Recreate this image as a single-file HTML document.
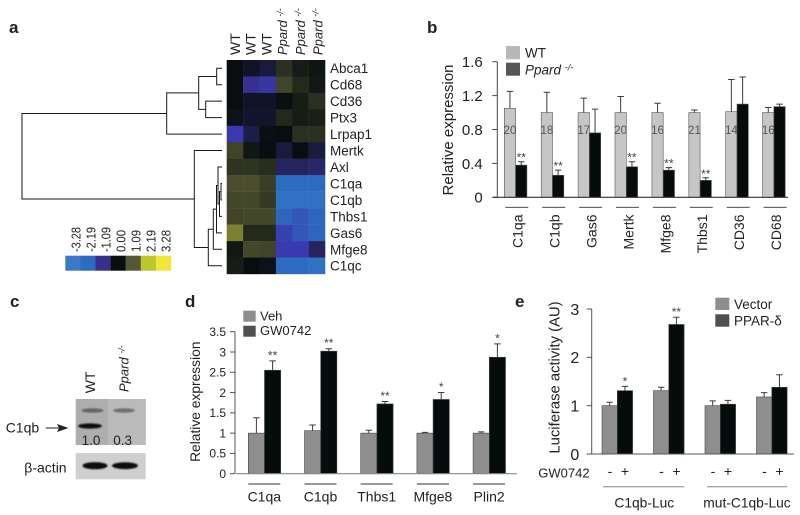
<!DOCTYPE html>
<html>
<head>
<meta charset="utf-8">
<style>
html,body{margin:0;padding:0;background:#fff;}
svg{display:block;}
text{font-family:"Liberation Sans",sans-serif;fill:#222;}
</style>
</head>
<body>
<svg id="fig" xmlns="http://www.w3.org/2000/svg" width="800" height="515" viewBox="0 0 800 515">
<defs>
<filter id="soft" x="-20%" y="-80%" width="140%" height="260%"><feGaussianBlur stdDeviation="0.9"/></filter>
<filter id="softer" x="-20%" y="-80%" width="140%" height="260%"><feGaussianBlur stdDeviation="1.3"/></filter>
<filter id="fuzz" x="-10%" y="-10%" width="120%" height="120%"><feGaussianBlur stdDeviation="3"/></filter>
</defs>

<text x="9" y="33" font-size="17" font-weight="bold">a</text>
<text x="427" y="33" font-size="17" font-weight="bold">b</text>
<text x="10" y="307" font-size="17" font-weight="bold">c</text>
<text x="185" y="307" font-size="17" font-weight="bold">d</text>
<text x="515" y="307" font-size="17" font-weight="bold">e</text>

<g id="panel-a">
  <g>
    <text transform="translate(240,55) rotate(-90)" font-size="14">WT</text>
    <text transform="translate(255.7,55) rotate(-90)" font-size="14">WT</text>
    <text transform="translate(271.7,55) rotate(-90)" font-size="14">WT</text>
    <text transform="translate(287,55) rotate(-90)" font-size="13" font-style="italic">Ppard <tspan font-size="9" dy="-4">-/-</tspan></text>
    <text transform="translate(305,55) rotate(-90)" font-size="13" font-style="italic">Ppard <tspan font-size="9" dy="-4">-/-</tspan></text>
    <text transform="translate(322.7,55) rotate(-90)" font-size="13" font-style="italic">Ppard <tspan font-size="9" dy="-4">-/-</tspan></text>
  </g>
</g>

<g id="panel-b">
  <rect x="506" y="46" width="14" height="13.3" fill="#b8b8b8"/>
  <text x="525" y="57.7" font-size="13.5">WT</text>
  <rect x="506" y="62.7" width="14" height="13" fill="#565656"/>
  <text x="525" y="74.3" font-size="13.5" font-style="italic">Ppard <tspan font-size="9" dy="-4">-/-</tspan></text>
  <text transform="translate(453,130) rotate(-90)" font-size="15" text-anchor="middle">Relative expression</text>
</g>

<g id="panel-c">
  <text transform="translate(95,393.3) rotate(-90)" font-size="14">WT</text>
  <text transform="translate(128.3,392) rotate(-90)" font-size="13" font-style="italic">Ppard <tspan font-size="9" dy="-4">-/-</tspan></text>
  <rect x="75.7" y="399" width="70" height="46" fill="#aeaeae"/>
  <rect x="108" y="399" width="37.7" height="46" fill="#bababa"/>
  <ellipse cx="92.5" cy="410.5" rx="11" ry="2.3" fill="#666" filter="url(#soft)"/>
  <ellipse cx="124" cy="410.5" rx="11" ry="2.3" fill="#707070" filter="url(#soft)"/>
  <ellipse cx="90" cy="426" rx="12" ry="2.6" fill="#111" filter="url(#soft)"/>
  <text x="91" y="445" font-size="13.5" text-anchor="middle">1.0</text>
  <text x="122.7" y="445" font-size="13.5" text-anchor="middle">0.3</text>
  <rect x="75.7" y="453" width="70" height="26.3" fill="#cfcfcf"/>
  <ellipse cx="95" cy="465.7" rx="12.5" ry="3.6" fill="#111" filter="url(#soft)"/>
  <ellipse cx="125" cy="465.7" rx="13" ry="3.4" fill="#111" filter="url(#soft)"/>
  <text x="5.7" y="432.7" font-size="14">C1qb</text>
  <line x1="45.7" y1="428" x2="60" y2="428" stroke="#222" stroke-width="1"/>
  <polygon points="57,424 68.5,428 57,432 59,428" fill="#222"/>
  <text x="24.3" y="472.3" font-size="14">β-actin</text>
</g>

<g id="panel-d">
  <rect x="243.3" y="310.7" width="12.4" height="11" fill="#8e8e8e"/>
  <text x="260" y="320.3" font-size="13">Veh</text>
  <rect x="243.3" y="325.7" width="12.4" height="11" fill="#505050"/>
  <text x="260" y="335" font-size="13">GW0742</text>
  <text transform="translate(200,401.7) rotate(-90)" font-size="13.8" text-anchor="middle">Relative expression</text>
</g>

<g id="panel-e">
  <rect x="715.3" y="297.7" width="14" height="12.3" fill="#8e8e8e"/>
  <text x="734" y="309" font-size="13.5">Vector</text>
  <rect x="715.3" y="314.3" width="14" height="12.4" fill="#505050"/>
  <text x="734" y="325.7" font-size="13.5">PPAR-δ</text>
  <text transform="translate(559.3,377.5) rotate(-90)" font-size="14.8" text-anchor="middle">Luciferase activity (AU)</text>
  <text x="538.3" y="477.7" font-size="13" fill="#333">GW0742</text>
  <line x1="603.3" y1="486.7" x2="684.3" y2="486.7" stroke="#888" stroke-width="1"/>
  <line x1="707.3" y1="486.7" x2="787.3" y2="486.7" stroke="#888" stroke-width="1"/>
  <text x="644.3" y="507.3" font-size="13.8" text-anchor="middle">C1qb-Luc</text>
  <text x="747" y="507.3" font-size="13.8" text-anchor="middle">mut-C1qb-Luc</text>
</g>
</svg>

<script>
// ---------- Panel a data ----------
const heatGenes = ["Abca1","Cd68","Cd36","Ptx3","Lrpap1","Mertk","Axl","C1qa","C1qb","Thbs1","Gas6","Mfge8","C1qc"];
const heatAbca1 = [0,-0.2,-0.4,0.5,0.2,0.1];
const heatCd68 = [0,-1.15,-1.35,0.8,0.4,0.15];
const heatCd36 = [0,-0.2,-0.2,-0.02,0.2,0.5];
const heatPtx3 = [-0.1,-0.25,-0.25,0.4,0.2,0.25];
const heatLrpap1 = [-1.5,-0.5,-0.02,0,0.5,0.5];
const heatMertk = [0.8,0.12,0,-0.4,0,-0.4];
const heatAxl = [0.55,0.55,0.45,-0.7,-0.7,-0.8];
const heatC1qa = [0.95,0.95,0.7,-2.3,-2.3,-2.2];
const heatC1qb = [0.85,0.85,0.65,-2.6,-2.6,-2.6];
const heatThbs1 = [0.8,0.85,0.85,-2.1,-1.9,-2.1];
const heatGas6 = [1.5,0.4,0.4,-1.6,-1.9,-2.1];
const heatMfge8 = [0.15,0.85,0.8,-1.5,-1.5,-0.7];
const heatC1qc = [0.2,0,-0.1,-2.2,-2.2,-2.6];
const scaleLabels = ["-3.28","-2.19","-1.09","0.00","1.09","2.19","3.28"];
const scaleValues = [-3.28,-2.19,-1.09,0,1.09,2.19,3.28];

// ---------- Panel b data ----------
const bCategories = ["C1qa","C1qb","Gas6","Mertk","Mfge8","Thbs1","CD36","CD68"];
const bWT = [1.05,1,1,1,1,1,1.01,1];
const bWTErr = [1.25,1.24,1.17,1.19,1.11,1.03,1.39,1.06];
const bKO = [0.38,0.26,0.76,0.36,0.32,0.2,1.1,1.07];
const bKOErr = [0.42,0.32,1.04,0.42,0.35,0.23,1.42,1.1];
const bStars = ["**","**","","**","**","**","",""];
const bCounts = ["20","18","17","20","16","21","14","16"];
const bTicks = [0,0.4,0.8,1.2,1.6];
const bTickLabels = ["0","0.4","0.8","1.2","1.6"];

// ---------- Panel d data ----------
const dCategories = ["C1qa","C1qb","Thbs1","Mfge8","Plin2"];
const dVeh = [1,1.06,1,1,1];
const dVehErr = [1.38,1.2,1.07,1.02,1.03];
const dGW = [2.55,3.02,1.72,1.83,2.87];
const dGWErr = [2.78,3.08,1.78,2,3.2];
const dStars = ["**","**","**","*","*"];
const dTicks = [0,0.5,1,1.5,2,2.5,3,3.5];
const dTickLabels = ["0","0.5","1","1.5","2","2.5","3","3.5"];

// ---------- Panel e data ----------
const eVector = [1,1.31,1,1.18];
const eVectorErr = [1.07,1.38,1.1,1.27];
const ePPAR = [1.31,2.68,1.03,1.38];
const ePPARErr = [1.4,2.83,1.11,1.64];
const eStars = ["*","**","",""];
const eTicks = [0,1,2,3];
const eTickLabels = ["0","1","2","3"];

const NS = "http://www.w3.org/2000/svg";
function el(parent, tag, attrs, txt){
  const n = document.createElementNS(NS, tag);
  for (const k in attrs) n.setAttribute(k, attrs[k]);
  if (txt !== undefined) n.textContent = txt;
  parent.appendChild(n);
  return n;
}

// ---------- Heatmap ----------
const heatRows = [heatAbca1,heatCd68,heatCd36,heatPtx3,heatLrpap1,heatMertk,heatAxl,heatC1qa,heatC1qb,heatThbs1,heatGas6,heatMfge8,heatC1qc];
const colorStops = [[-3.28,[58,122,200]],[-2.19,[44,108,192]],[-1.5,[58,58,176]],[-1.09,[53,48,138]],[0,[8,14,16]],[1.09,[85,88,50]],[2.19,[188,198,47]],[3.28,[242,230,58]]];
function heatColor(v){
  if (v <= colorStops[0][0]) return "rgb(" + colorStops[0][1].join(",") + ")";
  for (let i = 1; i < colorStops.length; i++){
    if (v <= colorStops[i][0]){
      const a = colorStops[i-1], b = colorStops[i];
      const t = (v - a[0]) / (b[0] - a[0]);
      return "rgb(" + a[1].map((c,j)=>Math.round(c + (b[1][j]-c)*t)).join(",") + ")";
    }
  }
  return "rgb(" + colorStops[colorStops.length-1][1].join(",") + ")";
}
const panelA = document.getElementById("panel-a");
const heatX = c => 226.7 + c * 16.4;
const heatY = r => 60 + r * 16.46;
heatRows.forEach((row, r) => {
  row.forEach((v, c) => {
    const cell = el(panelA, "rect", {x: heatX(c), y: heatY(r), width: 16.6, height: 16.66, fill: heatColor(v)});
    
    
  });
  const lab = el(panelA, "text", {x: 330, y: heatY(r) + 13.2, "font-size": 13.5}, heatGenes[r]);
  
  
});

// Dendrogram: each merge joins two children at a horizontal cut position
const dendroTree = {x:22, kids:[
  {x:166.7, kids:[
    {x:198.7, kids:[
      {x:216.7, kids:[0,1]},
      {x:205.7, kids:[2,3]}
    ]},
    4
  ]},
  {x:194.3, kids:[
    5,
    {x:208.3, kids:[
      {x:213.3, kids:[
        {x:216.5, kids:[
          {x:218, kids:[
            6,
            {x:219.5, kids:[{x:221, kids:[7,8]},9]}
          ]},
          10
        ]},
        11
      ]},
      12
    ]}
  ]}
]};
function drawDendro(node){
  if (typeof node === "number") return {x:222, y:heatY(node) + 8.23};
  const a = drawDendro(node.kids[0]);
  const b = drawDendro(node.kids[1]);
  const p = el(panelA, "path", {
    d: "M" + a.x + " " + a.y + "H" + node.x + "V" + b.y + "H" + b.x,
    fill: "none", stroke: "#1a1a1a", "stroke-width": 1
  });
  
  
  return {x: node.x, y: (a.y + b.y) / 2};
}
drawDendro(dendroTree);

// Colour scale
scaleValues.forEach((v, i) => {
  const s = el(panelA, "rect", {x: 65.3 + i * 15.1, y: 255.7, width: 15.3, height: 15, fill: heatColor(v)});
  
  
  const t = el(panelA, "text", {transform: "translate(" + (80.7 + i * 15) + ",252) rotate(-90)", "font-size": 12.5, textLength: scaleLabels[i].length > 4 ? 25 : 22, lengthAdjust: "spacingAndGlyphs"}, scaleLabels[i]);
  
  
});

// ---------- Generic bars ----------
function drawBars(cfg){
  const g = document.getElementById(cfg.panel);
  // axes
  const yAxis = el(g, "line", {x1: cfg.axisX, x2: cfg.axisX, y1: cfg.y(cfg.ticks[cfg.ticks.length-1]), y2: cfg.y(0), stroke: cfg.axisColor, "stroke-width": 1});
  
  
  cfg.ticks.forEach((v, i) => {
    const tk = el(g, "line", {x1: cfg.axisX - 5, x2: cfg.axisX, y1: cfg.y(v), y2: cfg.y(v), stroke: cfg.axisColor, "stroke-width": 1});
    
    
    const tl = el(g, "text", {x: cfg.tickRight, y: cfg.y(v) + cfg.tickFont * 0.36, "font-size": cfg.tickFont, "text-anchor": "end"}, cfg.tickLabels[i]);
    
    
  });
  cfg.s1.forEach((v, i) => {
    const x0 = cfg.x(i);
    const w = cfg.barW;
    const x1 = x0 + w;
    const drawOne = (x, val, err, fill, nm) => {
      const eb = el(g, "path", {
        d: "M" + (x + w/2) + " " + cfg.y(val) + "V" + cfg.y(err) + "M" + (x + w/2 - 3.2) + " " + cfg.y(err) + "h6.4",
        fill: "none", stroke: "#3a3a3a", "stroke-width": 1
      });
      
      
      const b = el(g, "rect", {x: x, y: cfg.y(val), width: w, height: cfg.y(0) - cfg.y(val), fill: fill, stroke: cfg.barStroke, "stroke-width": 0.6});
      
      
    };
    drawOne(x0, v, cfg.e1[i], cfg.c1, 'bar-series-1');
    drawOne(x1, cfg.s2[i], cfg.e2[i], cfg.c2, 'bar-series-2');
    if (cfg.stars[i]) {
      const st = el(g, "text", {x: x1 + w/2, y: cfg.y(cfg.e2[i]) + cfg.starDy, "font-size": 12, "text-anchor": "middle", fill: "#444"}, cfg.stars[i]);
      st.style.fill = "#444";
      
      
    }
  });
  const base = el(g, "line", {x1: cfg.baseL, x2: cfg.baseR, y1: cfg.y(0), y2: cfg.y(0), stroke: cfg.baseColor, "stroke-width": 1.1});
  
  
}

const yB = v => 197.3 - v * 84.75;
const xB = i => 504.3 + i * 36.9;
const yD = v => 473.7 - v * 40.57;
const xD = i => 248.3 + i * 56.2;
const yE = v => 454 - v * 48.33;
const xE = i => 602 + i * 51.5;

drawBars({panel:"panel-b", s1:bWT, e1:bWTErr, s2:bKO, e2:bKOErr, stars:bStars, ticks:bTicks, tickLabels:bTickLabels,
  x:xB, y:yB, barW:11.3, c1:"#c6c6c6", c2:"#060c0c", barStroke:"#555", axisX:497.3, axisColor:"#444", tickRight:482.7, tickFont:15,
  baseL:492.7, baseR:788, baseColor:"#333", starDy:0});
drawBars({panel:"panel-d", s1:dVeh, e1:dVehErr, s2:dGW, e2:dGWErr, stars:dStars, ticks:dTicks, tickLabels:dTickLabels,
  x:xD, y:yD, barW:16.2, c1:"#8e8e8e", c2:"#060c0c", barStroke:"#444", axisX:235, axisColor:"#555", tickRight:226, tickFont:12,
  baseL:236, baseR:516.7, baseColor:"#888", starDy:-1.5});
drawBars({panel:"panel-e", s1:eVector, e1:eVectorErr, s2:ePPAR, e2:ePPARErr, stars:eStars, ticks:eTicks, tickLabels:eTickLabels,
  x:xE, y:yE, barW:15.3, c1:"#8e8e8e", c2:"#060c0c", barStroke:"#444", axisX:591.7, axisColor:"#555", tickRight:579.3, tickFont:16,
  baseL:586.7, baseR:794, baseColor:"#555", starDy:-1});

// Panel b extras
const gB = document.getElementById("panel-b");
bCategories.forEach((c, i) => {
  const ln = el(gB, "line", {x1: xB(i) + 1, x2: xB(i) + 24, y1: 207.3, y2: 207.3, stroke: "#333", "stroke-width": 0.9});
  
  
  const t = el(gB, "text", {transform: "translate(" + (xB(i) + 18.4) + ",214.5) rotate(-90)", "font-size": 14, "text-anchor": "end"}, c);
  
  
  const n = el(gB, "text", {x: xB(i) + 5.65, y: 134, "font-size": 11.5, "text-anchor": "middle"}, bCounts[i]);
  n.style.fill = "#555";
  
  
});

// Panel d extras
const gD = document.getElementById("panel-d");
dCategories.forEach((c, i) => {
  const ln = el(gD, "line", {x1: xD(i), x2: xD(i) + 32, y1: 484, y2: 484, stroke: "#333", "stroke-width": 0.9});
  
  
  const t = el(gD, "text", {x: xD(i) + 16, y: 501.5, "font-size": 14, "text-anchor": "middle"}, c);
  
  
});

// Panel e extras
const gE = document.getElementById("panel-e");
eVector.forEach((v, i) => {
  const minus = el(gE, "text", {x: xE(i) + 8, y: 476, "font-size": 14, "text-anchor": "middle"}, "-");
  
  
  const plus = el(gE, "text", {x: xE(i) + 23, y: 476, "font-size": 14, "text-anchor": "middle"}, "+");
  
  
});
</script>
</body>
</html>
